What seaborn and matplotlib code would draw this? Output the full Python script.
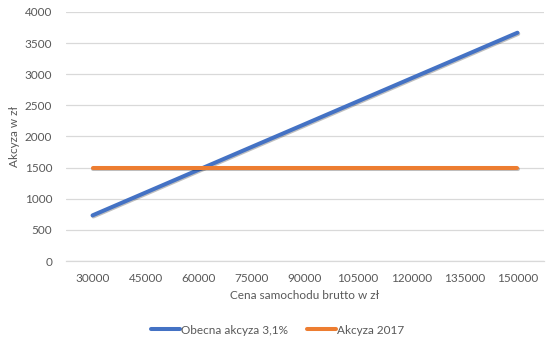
import matplotlib
matplotlib.use("Agg")
import matplotlib.pyplot as plt
import matplotlib.patheffects as pe
import seaborn as sns
import pandas as pd

# Car price (gross, PLN) and resulting excise duty under both rules
prices = ["30000", "45000", "60000", "75000", "90000", "105000", "120000", "135000", "150000"]
excise_current = [733, 1100, 1467, 1834, 2200, 2567, 2934, 3300, 3667]
excise_2017 = [1500, 1500, 1500, 1500, 1500, 1500, 1500, 1500, 1500]
series_names = ["Obecna akcyza 3,1%", "Akcyza 2017"]
colors = ["#4472C4", "#ED7D31"]

df = pd.DataFrame({
    "Cena": prices * 2,
    "Akcyza": excise_current + excise_2017,
    "Seria": [series_names[0]] * len(prices) + [series_names[1]] * len(prices),
})
df["pos"] = pd.Categorical(df["Cena"], categories=prices, ordered=True).codes

sns.set_theme(style="white")
plt.rcParams["font.family"] = ["Lato", "DejaVu Sans"]
text_color = "#595959"

fig = plt.figure(figsize=(5.55, 3.45), dpi=100)
ax = fig.add_axes([66 / 555, (345 - 261) / 345, (544 - 66) / 555, (261 - 12) / 345])

sns.lineplot(data=df, x="pos", y="Akcyza", hue="Seria", palette=colors,
             linewidth=2.9, ax=ax, legend=False)
for line in ax.lines:
    line.set_solid_capstyle("round")
    line.set_path_effects([pe.SimpleLineShadow(offset=(0.6, -0.8), alpha=0.25, shadow_color="black"),
                           pe.Normal()])

ax.set_xlim(-0.5, len(prices) - 0.5)
ax.set_ylim(0, 4000)
ax.set_yticks(range(0, 4001, 500))
ax.set_xticks(range(len(prices)))
ax.set_xticklabels(prices)
ax.yaxis.grid(True, color="#D9D9D9", linewidth=0.9)
ax.xaxis.grid(False)
for s in ["top", "right", "left"]:
    ax.spines[s].set_visible(False)
ax.spines["bottom"].set_color("#D9D9D9")
ax.spines["bottom"].set_linewidth(0.9)
ax.tick_params(axis="both", length=0, labelsize=8.5, colors=text_color)
ax.tick_params(axis="x", pad=9)
ax.tick_params(axis="y", pad=10)
ax.set_xlabel("Cena samochodu brutto w zł", fontsize=8.5, color=text_color, labelpad=4)
ax.set_ylabel("Akcyza w zł", fontsize=8.5, color=text_color)
ax.yaxis.set_label_coords((20 - 66) / 478, 0.5)

handles = [plt.Line2D([], [], color=c, linewidth=2.9) for c in colors]
fig.legend(handles, series_names, loc="center", bbox_to_anchor=(278 / 555, 1 - 330 / 345),
           ncol=2, frameon=False, fontsize=8.5, labelcolor=text_color,
           handlelength=2.45, handletextpad=0.1, columnspacing=1.6)

fig.savefig("out.png", dpi=100, facecolor="white")
